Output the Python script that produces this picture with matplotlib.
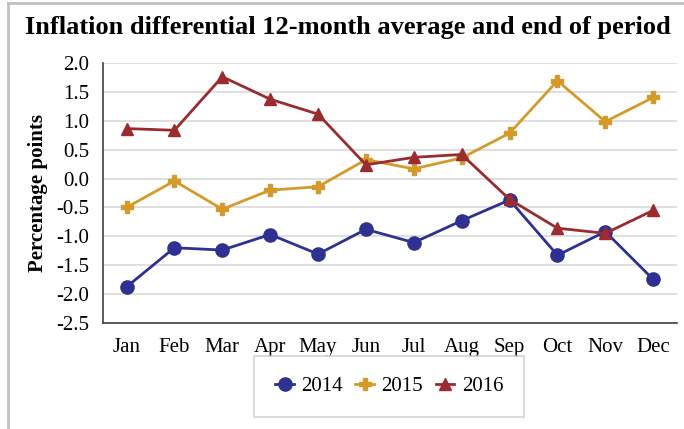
import matplotlib
matplotlib.use("Agg")
import matplotlib.pyplot as plt
from matplotlib.lines import Line2D

# Data
months = ["Jan", "Feb", "Mar", "Apr", "May", "Jun", "Jul", "Aug", "Sep", "Oct", "Nov", "Dec"]
y2014 = [-1.88, -1.20, -1.24, -0.97, -1.31, -0.88, -1.11, -0.73, -0.37, -1.33, -0.92, -1.75]
y2015 = [-0.50, -0.04, -0.53, -0.20, -0.14, 0.33, 0.17, 0.36, 0.79, 1.70, 0.99, 1.41]
y2016 = [0.87, 0.84, 1.77, 1.38, 1.12, 0.24, 0.37, 0.42, -0.36, -0.86, -0.95, -0.55]
yticks = [2.0, 1.5, 1.0, 0.5, 0.0, -0.5, -1.0, -1.5, -2.0, -2.5]

plt.rcParams["font.family"] = ["Liberation Serif", "DejaVu Serif"]

fig = plt.figure(figsize=(6.84, 4.29), dpi=100)
ax = fig.add_axes([0.150, 0.248, 0.840, 0.604])

x = list(range(len(months)))
ax.plot(x, y2014, color="#2E3192", lw=2, marker="o", markersize=9.5, label="2014", zorder=3)
ax.plot(x, y2015, color="#D49A2A", lw=2, marker="P", markersize=8, label="2015", zorder=4)
ax.plot(x, y2016, color="#9B2B2E", lw=2, marker="^", markersize=8, label="2016", zorder=5)

ax.set_xlim(-0.5, len(months) - 0.5)
ax.set_ylim(-2.5, 2.0)
ax.set_yticks(yticks)
ax.set_yticklabels([f"{v:.1f}" for v in yticks])
ax.set_xticks(x)
ax.set_xticklabels(months)
ax.tick_params(axis="both", length=0, labelsize=15)
ax.tick_params(axis="y", pad=9.5)
ax.tick_params(axis="x", pad=11)

ax.grid(axis="y", color="#d9d9d9", lw=1.2)
ax.set_axisbelow(True)
for s in ["top", "right"]:
    ax.spines[s].set_visible(False)
for s in ["left", "bottom"]:
    ax.spines[s].set_color("#404040")
    ax.spines[s].set_linewidth(1.2)

ax.set_ylabel("Percentage points", fontsize=15, fontweight="bold", labelpad=6)

fig.text(0.508, 0.935, "Inflation differential 12-month average and end of period",
         ha="center", va="center", fontsize=19, fontweight="bold")

leg = fig.legend(loc="center", bbox_to_anchor=(0.569, 0.099), ncol=3, fontsize=15,
                 frameon=True, fancybox=False, edgecolor="#c8c8c8",
                 handlelength=0.9, handletextpad=0.35, columnspacing=0.6,
                 borderpad=1.0)
leg.get_frame().set_linewidth(1.2)

# light grey page border (top and left)
fig.add_artist(Line2D([0.012, 0.012], [0, 0.993], transform=fig.transFigure, color="#c0c0c0", lw=2))
fig.add_artist(Line2D([0.012, 1.0], [0.993, 0.993], transform=fig.transFigure, color="#c0c0c0", lw=2))

fig.savefig("out.png", dpi=100)
